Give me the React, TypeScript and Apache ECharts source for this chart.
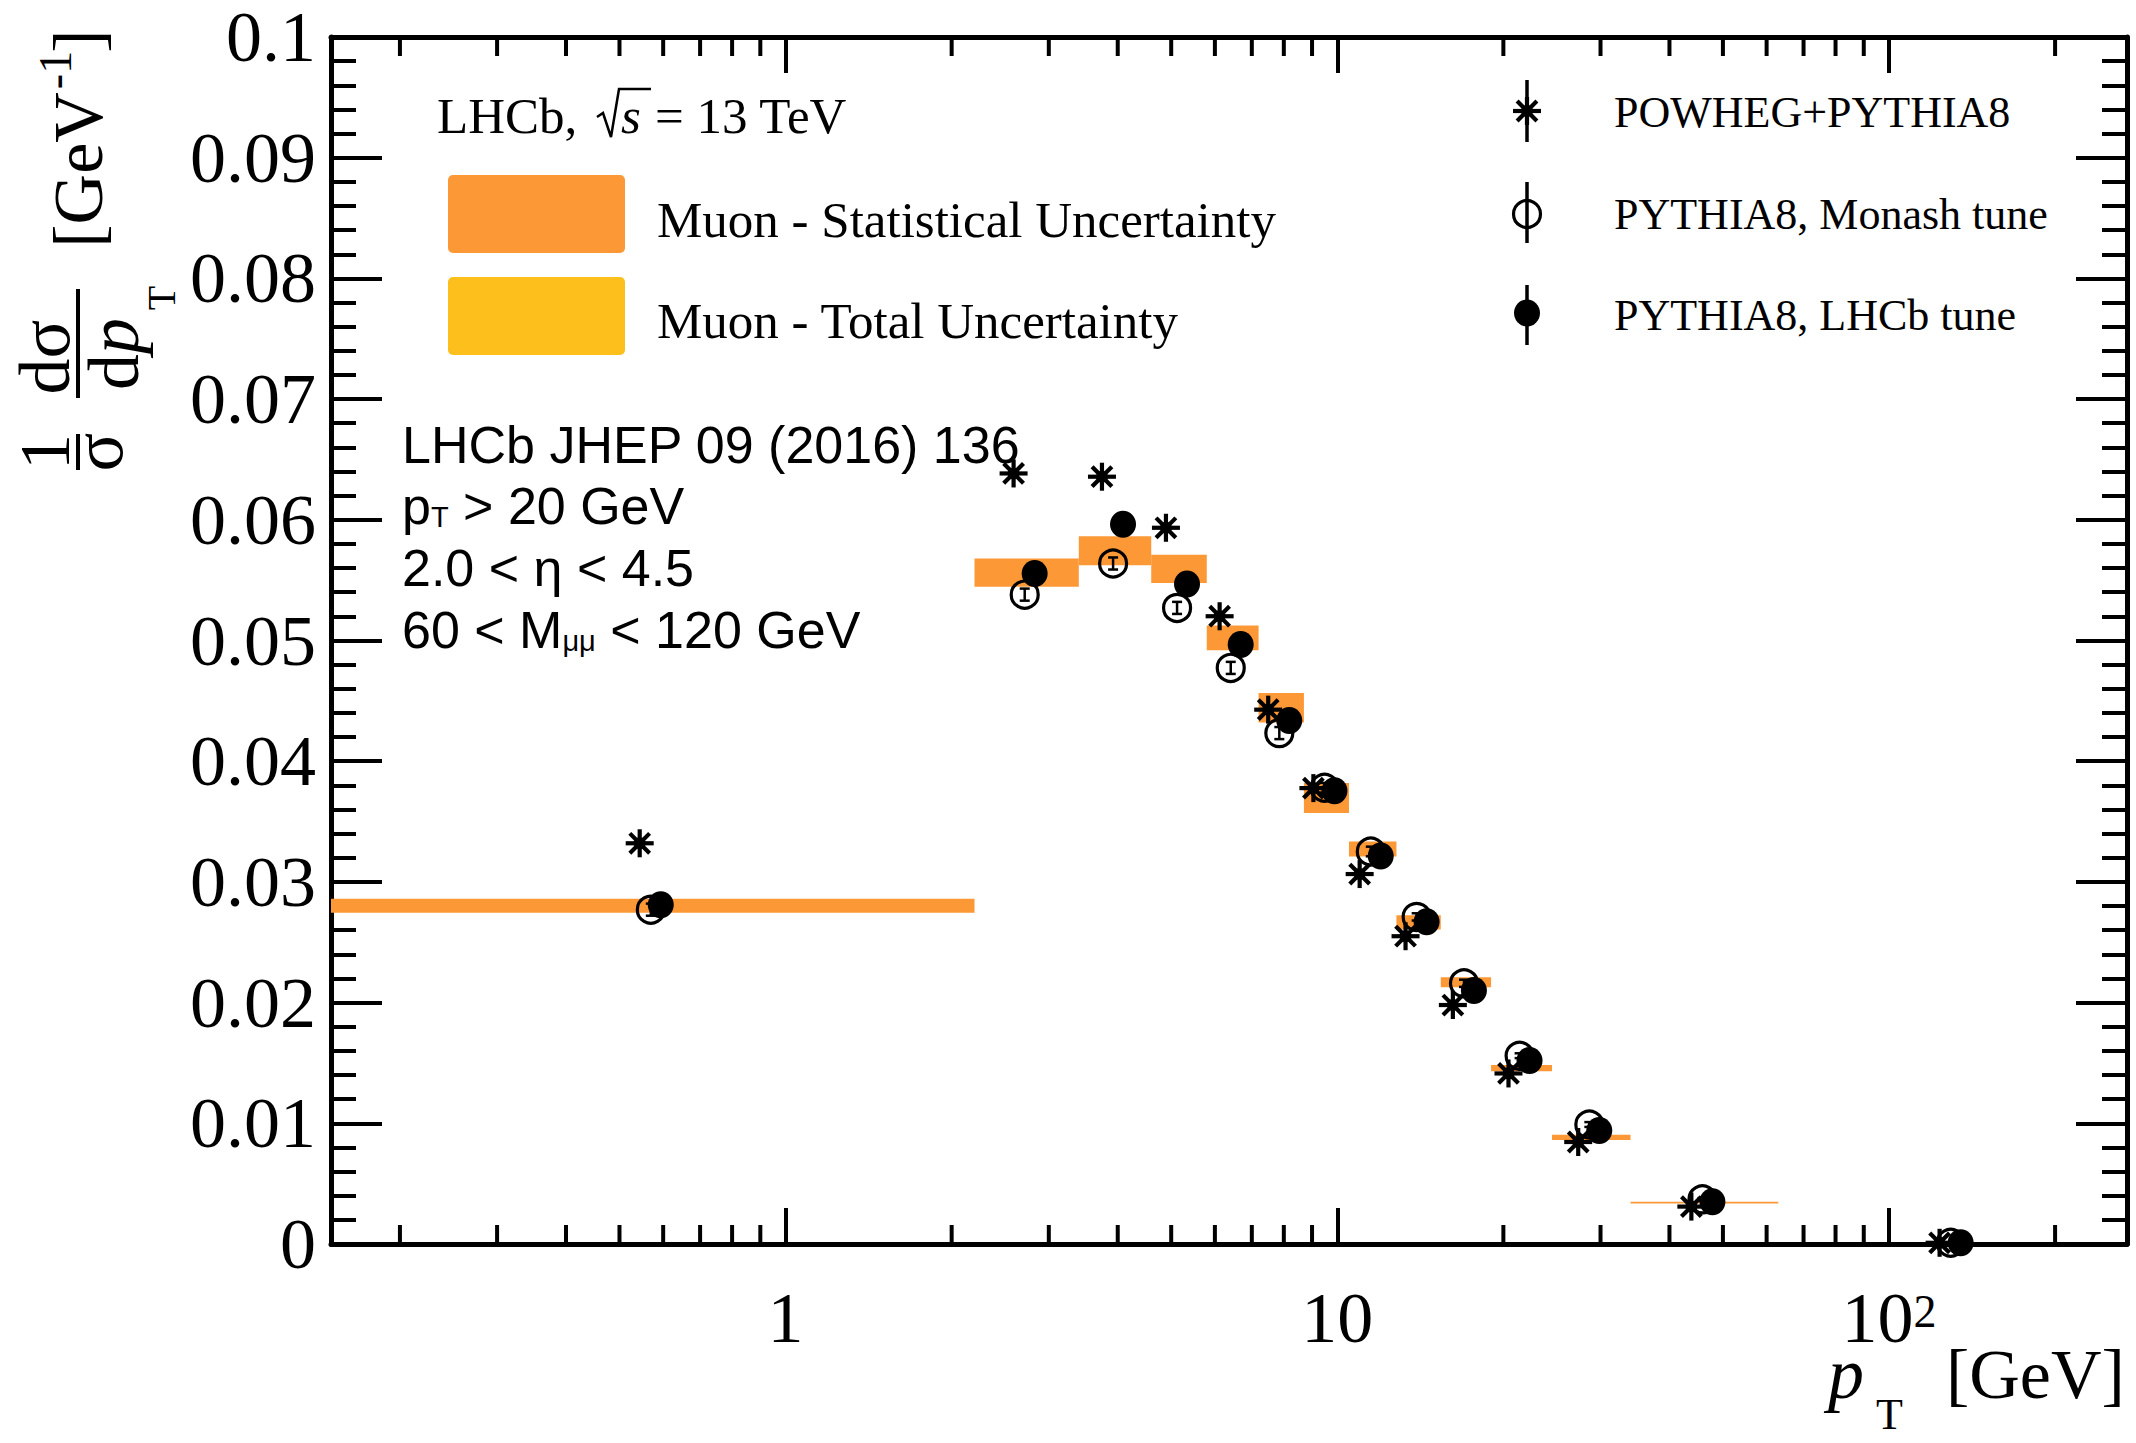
import React, { useEffect, useRef } from 'react';
import * as echarts from 'echarts';

const W = 2136;
const H = 1443;

// Transverse-momentum bin edges in GeV (the first bin starts at 0)
const binEdges = [0, 2.2, 3.4, 4.6, 5.8, 7.2, 8.7, 10.5, 12.8, 15.4, 19.0, 24.5, 34.0, 63.0, 270.0];

// Muon measurement: statistical-uncertainty band per bin
const muonStatLow = [0.02745, 0.05445, 0.05624, 0.05477, 0.04919, 0.0432, 0.0357, 0.0321, 0.02606, 0.02128, 0.01431, 0.00862, 0.00335, 0.00004];
const muonStatHigh = [0.02861, 0.05679, 0.05864, 0.0571, 0.05124, 0.04565, 0.0382, 0.03335, 0.02723, 0.02209, 0.01483, 0.00906, 0.0035, 0.0001];

// Generator predictions per bin
const powhegPythia8 = [0.0332, 0.06384, 0.06357, 0.05934, 0.05201, 0.04427, 0.03777, 0.03065, 0.0255, 0.0198, 0.01413, 0.00845, 0.0031, 0.0001];
const pythia8Monash = [0.0277, 0.0538, 0.05638, 0.0527, 0.04773, 0.04233, 0.0378, 0.03252, 0.0271, 0.0216, 0.0156, 0.0099, 0.0037, 0.0001];
const pythia8MonashErr = [0.0005, 0.0005, 0.0005, 0.0005, 0.0005, 0.0005, 0.0004, 0.0004, 0.0003, 0.0003, 0.0002, 0.0002, 0.0001, 0.00005];
const pythia8Lhcb = [0.0281, 0.05555, 0.05964, 0.05469, 0.04966, 0.04338, 0.03755, 0.03215, 0.0267, 0.021, 0.0152, 0.0094, 0.0035, 0.0001];

// Axis ticks
const xMinorTicks = [0.2, 0.3, 0.4, 0.5, 0.6, 0.7, 0.8, 0.9, 2, 3, 4, 5, 6, 7, 8, 9, 20, 30, 40, 50, 60, 70, 80, 90, 200];
const xDecadeLabels = ['1', '10', '{b|10}{s|2}'];

const X_MIN = 0.15;
const X_MAX = 270;
const Y_MIN = 0;
const Y_MAX = 0.1;
const Y_STEP = 0.01;

const SERIF = '"Liberation Serif", "Times New Roman", serif';
const SANS = '"Liberation Sans", Arial, sans-serif';
const SERIF_CENTRAL = 0.3375;
const SANS_CENTRAL = 0.3465;

const ORANGE = '#fd9836';
const YELLOW = '#fdbf1b';
const BLACK = '#000';

// horizontal offsets of the three generator markers inside a bin (multiplicative on the log axis)
const SHIFT_STAR = 0.947;
const SHIFT_OPEN = 0.992;
const SHIFT_FULL = 1.034;

const STAR_R = 14;
const CIRCLE_R = 13.5;

function binCentre(i: number) {
  const lo = Math.max(binEdges[i], X_MIN);
  const hi = binEdges[i + 1];
  return Math.sqrt(lo * hi);
}

function starParts(cx: number, cy: number) {
  const parts: any[] = [];
  [0, 45, 90, 135].forEach((deg) => {
    const r = (deg * Math.PI) / 180;
    const dx = Math.cos(r) * STAR_R;
    const dy = Math.sin(r) * STAR_R;
    parts.push({
      type: 'line',
      shape: { x1: cx - dx, y1: cy - dy, x2: cx + dx, y2: cy + dy },
      style: { stroke: BLACK, lineWidth: 4.2 },
    });
  });
  parts.push({ type: 'circle', shape: { cx, cy, r: 6 }, style: { fill: BLACK } });
  return parts;
}

function openCircle(cx: number, cy: number) {
  return { type: 'circle', shape: { cx, cy, r: CIRCLE_R }, style: { fill: 'none', stroke: BLACK, lineWidth: 3.2 } };
}

function fullCircle(cx: number, cy: number) {
  return { type: 'ellipse', shape: { cx, cy, rx: CIRCLE_R - 0.5, ry: CIRCLE_R }, style: { fill: BLACK } };
}

function vline(x: number, y1: number, y2: number, w = 3.5) {
  return { type: 'line', shape: { x1: x, y1, x2: x, y2 }, style: { stroke: BLACK, lineWidth: w } };
}

function text(str: string, x: number, baseline: number, size: number, family = SERIF, extra: any = {}) {
  const central = family === SANS ? SANS_CENTRAL : SERIF_CENTRAL;
  return {
    type: 'text',
    x,
    y: baseline - central * size,
    style: {
      text: str,
      fontSize: size,
      fontFamily: family,
      fill: BLACK,
      align: 'left',
      verticalAlign: 'middle',
      lineHeight: Math.round(size * 0.8),
      ...extra,
    },
  };
}

// rotated (bottom-to-top) text, placed by its baseline x and its centre y
function vtext(str: string, baselineX: number, centreY: number, size: number, extra: any = {}) {
  return {
    type: 'text',
    x: baselineX - SERIF_CENTRAL * size,
    y: centreY,
    rotation: Math.PI / 2,
    style: {
      text: str,
      fontSize: size,
      fontFamily: SERIF,
      fill: BLACK,
      align: 'center',
      verticalAlign: 'middle',
      lineHeight: Math.round(size * 0.8),
      ...extra,
    },
  };
}

function sansRich(str: string, x: number, baseline: number) {
  return {
    type: 'text',
    x,
    y: baseline - SANS_CENTRAL * 52,
    style: {
      text: str,
      align: 'left',
      verticalAlign: 'middle',
      rich: {
        m: { fontSize: 52, fontFamily: SANS, fill: BLACK, lineHeight: 52 },
        s: { fontSize: 29, fontFamily: SANS, fill: BLACK, lineHeight: 29, verticalAlign: 'bottom' },
      },
    },
  };
}

function buildOption() {
  const boxData = muonStatLow.map((lo, i) => [Math.max(binEdges[i], X_MIN), binEdges[i + 1], lo, muonStatHigh[i]]);

  const axisLine = { show: true, onZero: false, lineStyle: { color: BLACK, width: 5 } };

  const xAxisBase = {
    type: 'log',
    logBase: 10,
    min: X_MIN,
    max: X_MAX,
    z: 3,
    axisLine,
    axisTick: { show: true, inside: true, length: 36, lineStyle: { color: BLACK, width: 4 } },
    minorTick: { show: false },
    splitLine: { show: false },
  };

  const yAxisBase = {
    type: 'value',
    min: Y_MIN,
    max: Y_MAX,
    interval: Y_STEP,
    axisLine,
    axisTick: { show: true, inside: true, length: 51, lineStyle: { color: BLACK, width: 4 } },
    minorTick: { show: true, splitNumber: 5, length: 25, lineStyle: { color: BLACK, width: 4 } },
    splitLine: { show: false },
  };

  const graphic: any[] = [];

  // y-axis title: 1/sigma dsigma/dpT [GeV^-1]
  graphic.push(vtext('1', 69, 452, 72));
  graphic.push(vtext('σ', 122, 452, 72));
  graphic.push({ type: 'rect', shape: { x: 76, y: 434, width: 4, height: 36 }, style: { fill: BLACK } });
  graphic.push(vtext('dσ', 69, 357, 72));
  graphic.push(vtext('d', 138, 372, 72));
  graphic.push(vtext('p', 138, 336, 72, { fontStyle: 'italic' }));
  graphic.push(vtext('T', 175, 298, 40));
  graphic.push({ type: 'rect', shape: { x: 76, y: 289, width: 4, height: 109 }, style: { fill: BLACK } });
  graphic.push(vtext('[GeV', 102, 170, 70));
  graphic.push(vtext('-1', 71, 70, 46));
  graphic.push(vtext(']', 102, 41, 70));

  // x-axis title: pT [GeV]
  graphic.push(text('p', 1828, 1398, 72, SERIF, { fontStyle: 'italic', lineHeight: 30 }));
  graphic.push(text('T', 1876, 1429, 44));
  graphic.push(text('[GeV]', 1946, 1398, 70));

  // LHCb, sqrt(s) = 13 TeV
  graphic.push(text('LHCb,', 437, 133, 51));
  graphic.push({
    type: 'polyline',
    shape: { points: [[597, 117], [603, 113], [611, 137], [619, 89], [651, 89]] },
    style: { stroke: BLACK, lineWidth: 2.5, fill: 'none' },
  });
  graphic.push(text('s', 621, 133, 51, SERIF, { fontStyle: 'italic' }));
  graphic.push(text('= 13 TeV', 655, 133, 51));

  // band legend
  graphic.push({ type: 'rect', shape: { x: 448, y: 175, width: 177, height: 78, r: 5 }, style: { fill: ORANGE } });
  graphic.push({ type: 'rect', shape: { x: 448, y: 277, width: 177, height: 78, r: 5 }, style: { fill: YELLOW } });
  graphic.push(text('Muon - Statistical Uncertainty', 657, 237, 51));
  graphic.push(text('Muon - Total Uncertainty', 657, 338, 51));

  // generator legend
  const lx = 1527;
  graphic.push({ type: 'group', children: [vline(lx, 80, 142), ...starParts(lx, 111)] });
  graphic.push({ type: 'group', children: [vline(lx, 182, 243), openCircle(lx, 214)] });
  graphic.push({ type: 'group', children: [vline(lx, 285, 345), fullCircle(lx, 313)] });
  graphic.push(text('POWHEG+PYTHIA8', 1614, 127, 44));
  graphic.push(text('PYTHIA8, Monash tune', 1614, 229, 44));
  graphic.push(text('PYTHIA8, LHCb tune', 1614, 330, 44));

  // selection
  graphic.push(sansRich('{m|LHCb JHEP 09 (2016) 136}', 402, 463));
  graphic.push(sansRich('{m|p}{s|T}{m| > 20 GeV}', 402, 524));
  graphic.push(sansRich('{m|2.0 < η < 4.5}', 402, 586));
  graphic.push(sansRich('{m|60 < M}{s|μμ}{m| < 120 GeV}', 402, 648));

  const option: any = {
    animation: false,
    backgroundColor: '#fff',
    grid: { left: 331, right: 9, top: 37, bottom: 199, containLabel: false, outerBoundsMode: 'none' },
    xAxis: [
      {
        ...xAxisBase,
        position: 'bottom',
        axisLabel: {
          show: true,
          margin: 44,
          fontSize: 72,
          lineHeight: 60,
          fontFamily: SERIF,
          color: BLACK,
          showMinLabel: false,
          showMaxLabel: false,
          formatter: (v: number) => {
            const e = Math.log10(v);
            const r = Math.round(e);
            if (Math.abs(e - r) > 1e-6 || r < 0 || r >= xDecadeLabels.length) return '';
            return xDecadeLabels[r];
          },
          rich: {
            b: { fontSize: 72, fontFamily: SERIF, color: BLACK, lineHeight: 60 },
            s: { fontSize: 46, fontFamily: SERIF, color: BLACK, lineHeight: 30, verticalAlign: 'top' },
          },
        },
      },
      { ...xAxisBase, position: 'top', axisLabel: { show: false } },
    ],
    yAxis: [
      {
        ...yAxisBase,
        position: 'left',
        axisLabel: {
          show: true,
          margin: 15,
          fontSize: 72,
          lineHeight: 56,
          fontFamily: SERIF,
          color: BLACK,
          formatter: (v: number) => {
            if (Math.abs(v) < 1e-12) return '0';
            if (Math.abs(v - 0.1) < 1e-9) return '0.1';
            return v.toFixed(2);
          },
        },
      },
      { ...yAxisBase, position: 'right', axisLabel: { show: false } },
    ],
    series: [
      {
        type: 'custom',
        name: 'x minor ticks',
        data: xMinorTicks.map((v) => [v]),
        encode: { x: 0 },
        silent: true,
        z: 1,
        renderItem: (params: any, api: any) => {
          const b = api.coord([api.value(0), Y_MIN]);
          const t = api.coord([api.value(0), Y_MAX]);
          return {
            type: 'group',
            children: [
              { type: 'line', shape: { x1: b[0], y1: b[1], x2: b[0], y2: b[1] - 19 }, style: { stroke: BLACK, lineWidth: 4 } },
              { type: 'line', shape: { x1: t[0], y1: t[1], x2: t[0], y2: t[1] + 19 }, style: { stroke: BLACK, lineWidth: 4 } },
            ],
          };
        },
      },
      {
        type: 'custom',
        name: 'Muon - Statistical Uncertainty',
        data: boxData,
        encode: { x: [0, 1], y: [2, 3] },
        z: 2,
        renderItem: (params: any, api: any) => {
          const a = api.coord([api.value(0), api.value(3)]);
          const b = api.coord([api.value(1), api.value(2)]);
          return {
            type: 'rect',
            shape: { x: a[0], y: a[1], width: b[0] - a[0], height: Math.max(b[1] - a[1], 1) },
            style: { fill: ORANGE },
          };
        },
      },
      {
        type: 'custom',
        name: 'POWHEG+PYTHIA8',
        data: powhegPythia8.map((v, i) => [binCentre(i) * SHIFT_STAR, v]),
        encode: { x: 0, y: 1 },
        z: 4,
        renderItem: (params: any, api: any) => {
          const p = api.coord([api.value(0), api.value(1)]);
          return { type: 'group', children: starParts(p[0], p[1]) };
        },
      },
      {
        type: 'custom',
        name: 'PYTHIA8, LHCb tune',
        data: pythia8Lhcb.map((v, i) => [binCentre(i) * SHIFT_FULL, v]),
        encode: { x: 0, y: 1 },
        z: 5,
        renderItem: (params: any, api: any) => {
          const p = api.coord([api.value(0), api.value(1)]);
          return fullCircle(p[0], p[1]);
        },
      },
      {
        type: 'custom',
        name: 'PYTHIA8, Monash tune',
        data: pythia8Monash.map((v, i) => [binCentre(i) * SHIFT_OPEN, v, pythia8MonashErr[i]]),
        encode: { x: 0, y: 1 },
        z: 6,
        renderItem: (params: any, api: any) => {
          const x = api.value(0);
          const y = api.value(1);
          const e = api.value(2);
          const p = api.coord([x, y]);
          const top = api.coord([x, y + e]);
          const bot = api.coord([x, y - e]);
          return {
            type: 'group',
            children: [
              vline(p[0], top[1], bot[1], 2.5),
              { type: 'line', shape: { x1: p[0] - 5, y1: top[1], x2: p[0] + 5, y2: top[1] }, style: { stroke: BLACK, lineWidth: 2.5 } },
              { type: 'line', shape: { x1: p[0] - 5, y1: bot[1], x2: p[0] + 5, y2: bot[1] }, style: { stroke: BLACK, lineWidth: 2.5 } },
              openCircle(p[0], p[1]),
            ],
          };
        },
      },
    ],
    graphic,
  };
  return option;
}

export default function App() {
  const ref = useRef<HTMLDivElement>(null);
  useEffect(() => {
    if (!ref.current) return;
    const chart = echarts.init(ref.current, null, { renderer: 'svg', width: W, height: H });
    chart.setOption(buildOption());
    return () => {
      chart.dispose();
    };
  }, []);
  return (
    <div
      ref={ref}
      style={{ position: 'absolute', left: 0, top: 0, width: W, height: H, background: '#fff' }}
    />
  );
}
